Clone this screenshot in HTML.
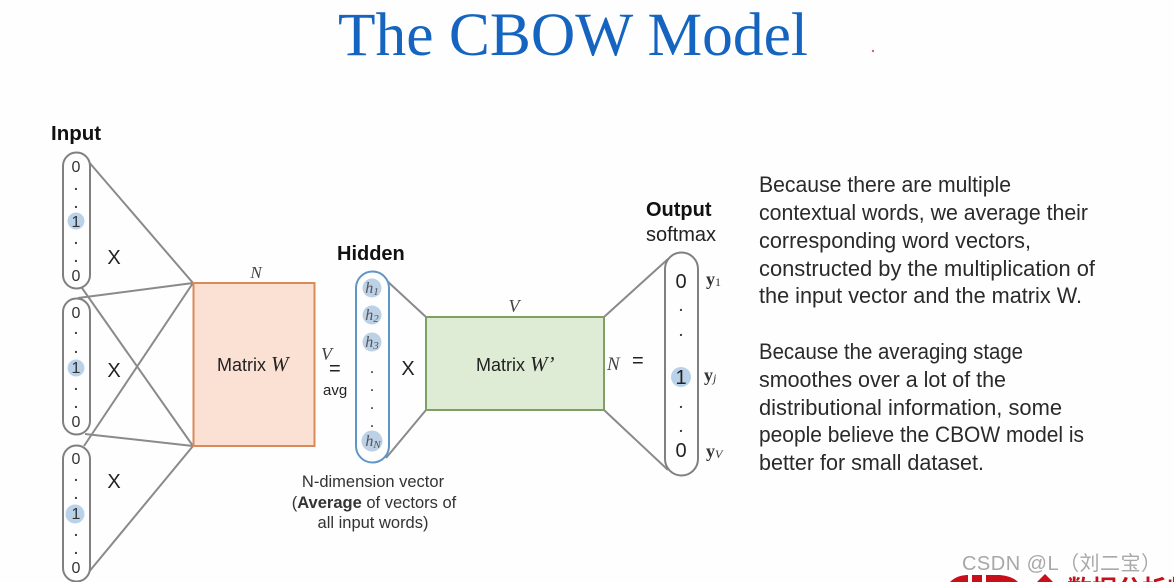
<!DOCTYPE html>
<html>
<head>
<meta charset="utf-8">
<style>
html,body{margin:0;padding:0;background:#fefefe;width:1174px;height:582px;overflow:hidden}
svg{display:block}
text{font-family:"Liberation Sans",sans-serif;fill:#222}
.s{font-family:"Liberation Serif",serif;font-style:italic;fill:#444}
.b{font-weight:bold;fill:#111}
.v{font-size:16px;text-anchor:middle;fill:#333}
.d{font-size:14px;text-anchor:middle;font-weight:bold;fill:#444}
.t{font-size:22.5px;fill:#2a2a2a}
.l{stroke:#8a8a8a;stroke-width:2;fill:none}
.p{stroke:#808080;stroke-width:2;fill:#fefefe}
.dot{fill:#b9d2ea}
.h{fill:#bcd0e6}
.hh{font-family:"Liberation Serif",serif;font-style:italic;font-size:16px;fill:#555;text-anchor:middle}
.x{font-size:20px;text-anchor:middle;fill:#222}
.c{font-size:16.5px;text-anchor:middle;fill:#333}
.y{font-family:"Liberation Serif",serif;font-weight:bold;fill:#333;font-size:18px}
</style>
</head>
<body>
<svg width="1174" height="582" viewBox="0 0 1174 582" xmlns="http://www.w3.org/2000/svg">
<rect width="1174" height="582" fill="#fefefe"/>
<text x="338" y="55" textLength="470" lengthAdjust="spacingAndGlyphs" style="font-family:'Liberation Serif',serif;font-size:61px;fill:#1565c0">The CBOW Model</text>
<circle cx="873" cy="51" r="1.2" fill="#d9606f"/>

<text x="51" y="140" class="b" font-size="20.500">Input</text>

<!-- connectors -->
<path class="l" d="M88 161L193 283M78 298L193 283M82 288L193 446M85 434L193 446M84 446L193 283M88 573L193 446"/>

<!-- input pills -->
<rect class="p" x="63" y="152.500" width="27" height="136" rx="13.500"/>
<rect class="p" x="63" y="298.500" width="27" height="136" rx="13.500"/>
<rect class="p" x="63" y="445.500" width="27" height="136" rx="13.500"/>
<circle class="dot" cx="76" cy="221" r="8.500"/>
<circle class="dot" cx="76" cy="368" r="8.500"/>
<circle class="dot" cx="75" cy="514" r="9.500"/>

<text class="v" x="76" y="172">0</text><text class="d" x="76" y="190">.</text><text class="d" x="76" y="208">.</text><text class="v" x="76" y="227">1</text><text class="d" x="76" y="244">.</text><text class="d" x="76" y="262">.</text><text class="v" x="76" y="281">0</text>
<text class="v" x="76" y="318">0</text><text class="d" x="76" y="334">.</text><text class="d" x="76" y="353">.</text><text class="v" x="76" y="373">1</text><text class="d" x="76" y="390">.</text><text class="d" x="76" y="408">.</text><text class="v" x="76" y="427">0</text>
<text class="v" x="76" y="464">0</text><text class="d" x="76" y="481">.</text><text class="d" x="76" y="499">.</text><text class="v" x="76" y="519">1</text><text class="d" x="76" y="536">.</text><text class="d" x="76" y="554">.</text><text class="v" x="76" y="573">0</text>

<text class="x" x="114" y="264">X</text>
<text class="x" x="114" y="377">X</text>
<text class="x" x="114" y="488">X</text>

<!-- Matrix W -->
<rect x="193.500" y="283" width="121" height="163" fill="#fae1d3" stroke="#d98a58" stroke-width="2"/>
<text class="s" x="256" y="278" font-size="17" text-anchor="middle">N</text>
<text x="217" y="371" font-size="18" fill="#222">Matrix <tspan style="font-family:'Liberation Serif',serif;font-style:italic" font-size="21">W</tspan></text>

<text class="s" x="321" y="360" font-size="18">V</text>
<text x="329" y="375" font-size="20" fill="#333">=</text>
<text x="323" y="395" font-size="15" fill="#444">avg</text>

<!-- Hidden -->
<text class="b" x="337" y="260" font-size="20">Hidden</text>
<path class="l" d="M386 280L426 317M386 458L426 410"/>
<rect x="356" y="271.500" width="33" height="191" rx="16.500" fill="#fefefe" stroke="#5f96c8" stroke-width="2"/>
<circle class="h" cx="372" cy="288" r="9.500"/>
<circle class="h" cx="372" cy="315" r="9.500"/>
<circle class="h" cx="372" cy="342" r="9.500"/>
<circle class="h" cx="372" cy="441" r="10.500"/>
<text class="hh" x="372" y="293">h<tspan font-size="11" dy="2">1</tspan></text>
<text class="hh" x="372" y="320">h<tspan font-size="11" dy="2">2</tspan></text>
<text class="hh" x="372" y="347">h<tspan font-size="11" dy="2">3</tspan></text>
<text class="hh" x="373" y="446">h<tspan font-size="11" dy="2">N</tspan></text>
<text class="d" x="372" y="373" style="font-size:12px">.</text>
<text class="d" x="372" y="391" style="font-size:12px">.</text>
<text class="d" x="372" y="409" style="font-size:12px">.</text>
<text class="d" x="372" y="427" style="font-size:12px">.</text>

<text class="x" x="408" y="375">X</text>

<!-- Matrix W' -->
<rect x="426" y="317" width="178" height="93" fill="#dfecd5" stroke="#7fa063" stroke-width="2"/>
<text class="s" x="514" y="312" font-size="18" text-anchor="middle">V</text>
<text x="476" y="371" font-size="18" fill="#222">Matrix <tspan style="font-family:'Liberation Serif',serif;font-style:italic" font-size="21">W’</tspan></text>
<text class="s" x="607" y="370" font-size="19">N</text>
<text x="632" y="367" font-size="20" fill="#333">=</text>

<!-- Output -->
<text class="b" x="646" y="216" font-size="20">Output</text>
<text x="646" y="241" font-size="20" fill="#333">softmax</text>
<path class="l" d="M604 317L668 259M604 410L668 470"/>
<rect class="p" x="665" y="252.500" width="33" height="223" rx="16.500"/>
<circle class="dot" cx="681" cy="377" r="10"/>
<text x="681" y="288" font-size="20" text-anchor="middle" fill="#333">0</text>
<text class="d" x="681" y="311">.</text>
<text class="d" x="681" y="336">.</text>
<text x="681" y="384" font-size="20" text-anchor="middle" fill="#333">1</text>
<text class="d" x="681" y="408">.</text>
<text class="d" x="681" y="432">.</text>
<text x="681" y="457" font-size="20" text-anchor="middle" fill="#333">0</text>

<text x="706" y="285" class="y">y<tspan font-size="12" font-weight="normal" dy="1">1</tspan></text>
<text x="704" y="381" class="y">y<tspan font-size="12" font-weight="normal" font-style="italic" dy="1">j</tspan></text>
<text x="706" y="457" class="y">y<tspan font-size="12" font-weight="normal" font-style="italic" dy="1">V</tspan></text>

<!-- caption -->
<text class="c" x="373" y="487">N-dimension vector</text>
<text class="c" x="374" y="508">(<tspan font-weight="bold">Average</tspan> of vectors of</text>
<text class="c" x="373" y="528">all input words)</text>

<!-- right text -->
<text class="t" x="759" y="192" textLength="252" lengthAdjust="spacingAndGlyphs">Because there are multiple</text>
<text class="t" x="759" y="220" textLength="329" lengthAdjust="spacingAndGlyphs">contextual words, we average their</text>
<text class="t" x="759" y="248" textLength="272" lengthAdjust="spacingAndGlyphs">corresponding word vectors,</text>
<text class="t" x="759" y="276" textLength="336" lengthAdjust="spacingAndGlyphs">constructed by the multiplication of</text>
<text class="t" x="759" y="303" textLength="323" lengthAdjust="spacingAndGlyphs">the input vector and the matrix W.</text>
<text class="t" x="759" y="359" textLength="264" lengthAdjust="spacingAndGlyphs">Because the averaging stage</text>
<text class="t" x="759" y="387" textLength="247" lengthAdjust="spacingAndGlyphs">smoothes over a lot of the</text>
<text class="t" x="759" y="415" textLength="303" lengthAdjust="spacingAndGlyphs">distributional information, some</text>
<text class="t" x="759" y="442" textLength="325" lengthAdjust="spacingAndGlyphs">people believe the CBOW model is</text>
<text class="t" x="759" y="470" textLength="225" lengthAdjust="spacingAndGlyphs">better for small dataset.</text>

<!-- watermark -->
<text x="962" y="570" font-size="20" textLength="199" style="font-family:'Liberation Sans','Noto Sans CJK SC',sans-serif;fill:#a8a8a8">CSDN @L（刘二宝）</text>

<!-- bottom red logo, cropped -->
<path d="M950 582Q957 575 968 575L968 582ZM972 575H982V582H972ZM986 575H1000Q1012 576 1018 582H986ZM1045 574L1037 582H1053Z" fill="#c8101c"/>
<text x="1067" y="598" font-size="25" style="font-family:'Liberation Sans','Noto Sans CJK SC',sans-serif;font-weight:bold;fill:#c8101c">数据分析师</text>
</svg>
</body>
</html>
